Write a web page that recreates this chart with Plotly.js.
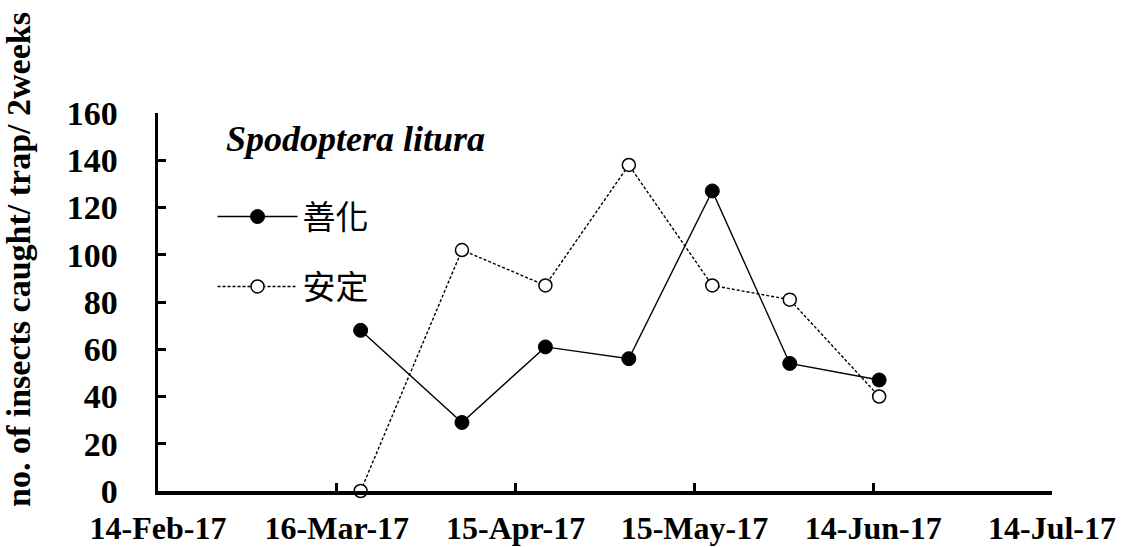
<!DOCTYPE html>
<html>
<head>
<meta charset="utf-8">
<script src="https://cdn.plot.ly/plotly-3.0.1.min.js"></script>
<style>html,body{margin:0;padding:0;background:#fff;}#chart{width:1124px;height:547px;}</style>
</head>
<body>
<div id="chart"></div>
<script>
// ---- data ----
var sampleDates = ['2017-03-20','2017-04-06','2017-04-20','2017-05-04','2017-05-18','2017-05-31','2017-06-15'];
var shanhua = [68, 29, 61, 56, 127, 54, 47];   // 善化
var anding  = [0, 102, 87, 138, 87, 81, 40];   // 安定
var seriesNames = ['善化', '安定'];
var xTickVals = ['2017-02-14','2017-03-16','2017-04-15','2017-05-15','2017-06-14','2017-07-14'];
var xTickText = ['14-Feb-17','16-Mar-17','15-Apr-17','15-May-17','14-Jun-17','14-Jul-17'];
var yTickVals = [0,20,40,60,80,100,120,140,160];
var yTitle = 'no. of insects caught/ trap/ 2weeks';
var chartLabel = 'Spodoptera litura';

var serif = '"Liberation Serif", "Times New Roman", serif';

var traces = [
  {
    x: sampleDates, y: shanhua, name: seriesNames[0], legendgroup: 'a',
    type: 'scatter', mode: 'lines+markers', cliponaxis: false,
    line: {color: '#000', width: 1.4},
    marker: {symbol: 'circle', size: 14, color: '#000', line: {color: '#000', width: 1}}
  },
  {
    x: sampleDates, y: anding, name: seriesNames[1], legendgroup: 'b',
    type: 'scatter', mode: 'lines+markers', cliponaxis: false,
    line: {color: '#000', width: 1.4, dash: '3px,2px'},
    marker: {symbol: 'circle', size: 13, color: '#fff', line: {color: '#000', width: 1.5}}
  }
];

var layout = {
  width: 1124, height: 547,
  margin: {l: 158, r: 72, t: 113, b: 56, pad: 0},
  paper_bgcolor: '#fff', plot_bgcolor: '#fff',
  showlegend: true,
  legend: {
    x: 0.061, y: 0.80, xanchor: 'left', yanchor: 'top',
    font: {family: '"Noto Sans CJK TC", sans-serif', size: 33, color: '#000'},
    itemwidth: 80,
    tracegroupgap: 24, bgcolor: 'rgba(0,0,0,0)', borderwidth: 0
  },
  xaxis: {
    type: 'date', range: ['2017-02-14','2017-07-14'],
    tickmode: 'array', tickvals: xTickVals, ticktext: xTickText,
    showgrid: false, zeroline: false,
    showline: true, linecolor: '#000', linewidth: 3.5,
    ticks: 'inside', ticklen: 8, tickwidth: 3, tickcolor: '#000',
    tickfont: {family: serif, size: 32, color: '#000', weight: 'bold'},
    ticklabelstandoff: 6
  },
  yaxis: {
    range: [0, 160], tickmode: 'array', tickvals: yTickVals,
    showgrid: false, zeroline: false,
    showline: true, linecolor: '#000', linewidth: 3.5,
    ticks: 'inside', ticklen: 8, tickwidth: 3, tickcolor: '#000',
    tickfont: {family: serif, size: 34, color: '#000', weight: 'bold'},
    ticklabelstandoff: 30
  },
  annotations: [
    {
      xref: 'paper', yref: 'paper', x: (18 - 158) / 894, y: (491 - 260) / 378,
      xanchor: 'center', yanchor: 'middle', textangle: -90, showarrow: false,
      text: '<b>' + yTitle + '</b>',
      font: {family: serif, size: 34, color: '#000'}
    },
    {
      xref: 'paper', yref: 'paper', x: (224 - 158) / 894, y: (491 - 139) / 378,
      xanchor: 'left', yanchor: 'middle', showarrow: false,
      text: '<b><i>' + chartLabel + '</i></b>',
      font: {family: serif, size: 36, color: '#000'}
    }
  ]
};

Plotly.newPlot('chart', traces, layout, {displayModeBar: false, staticPlot: true});
</script>
</body>
</html>
